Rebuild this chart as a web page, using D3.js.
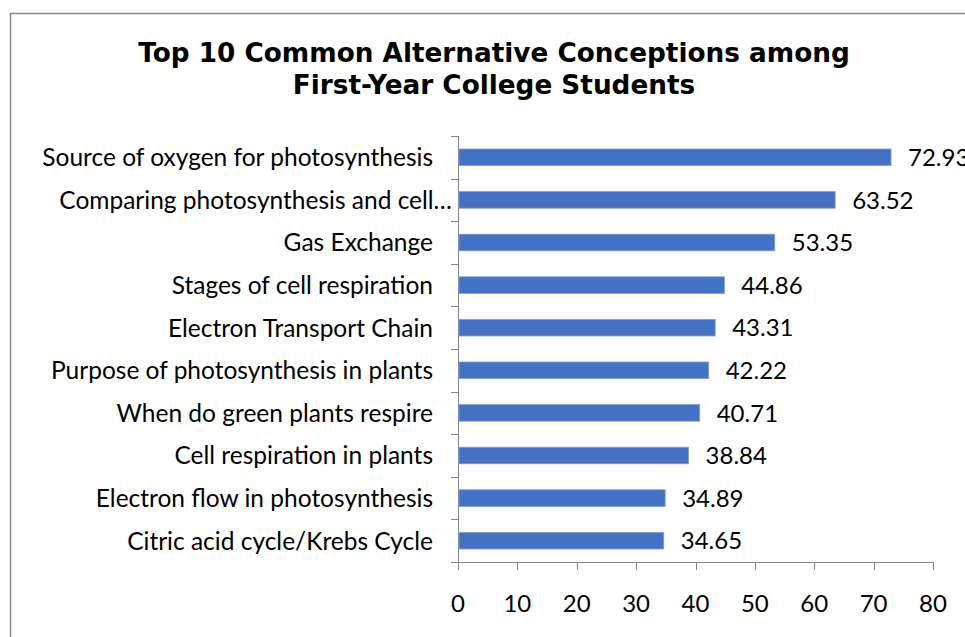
<!DOCTYPE html>
<html><head><meta charset="utf-8">
<script src="https://cdn.jsdelivr.net/npm/d3@7"></script>
<style>body{margin:0;background:#fff}svg{display:block}</style>
</head><body>
<svg id="c" width="965" height="637"></svg>
<script>
const categories = ["Source of oxygen for photosynthesis","Comparing photosynthesis and cell…","Gas Exchange","Stages of cell respiration","Electron Transport Chain","Purpose of photosynthesis in plants","When do green plants respire","Cell respiration in plants","Electron flow in photosynthesis","Citric acid cycle/Krebs Cycle"];
const values = [72.93,63.52,53.35,44.86,43.31,42.22,40.71,38.84,34.89,34.65];
const xTicks = [0,10,20,30,40,50,60,70,80];
const titleLines = ["Top 10 Common Alternative Conceptions among","First-Year College Students"];

const svg = d3.select("#c");
svg.append("rect").attr("x",10.5).attr("y",13.5).attr("width",980).attr("height",640)
  .attr("fill","#fff").attr("stroke","#888").attr("stroke-width",1.5);

const plotTop = 136, plotBottom = 562;
const x = d3.scaleLinear().domain([0,80]).range([458,933]);
const y = d3.scaleBand().domain(categories).range([plotTop,plotBottom]).paddingInner(0.61).paddingOuter(0.305);
const yb = d3.scaleBand().domain(categories).range([plotTop,plotBottom]);

const title = svg.append("text").attr("text-anchor","middle")
  .attr("font-family","DejaVu Sans").attr("font-weight","bold").attr("font-size",26.3).attr("fill","#000");
titleLines.forEach((t,i)=>title.append("tspan").attr("x",494).attr("y",62+i*32).text(t));

const g = svg.append("g");
const axisColor = "#868686";
g.append("line").attr("x1",x(0)+0.5).attr("x2",x(0)+0.5).attr("y1",plotTop).attr("y2",plotBottom).attr("stroke",axisColor);
g.append("line").attr("x1",x(0)).attr("x2",x(80)).attr("y1",plotBottom+0.5).attr("y2",plotBottom+0.5).attr("stroke",axisColor);
const bounds = categories.map(c=>yb(c)).concat([plotBottom]);
g.selectAll(".yt").data(bounds).join("line").attr("x1",x(0)-7).attr("x2",x(0))
  .attr("y1",d=>Math.round(d)+0.5).attr("y2",d=>Math.round(d)+0.5).attr("stroke",axisColor);
g.selectAll(".xt").data(xTicks).join("line").attr("x1",d=>Math.round(x(d))+0.5).attr("x2",d=>Math.round(x(d))+0.5)
  .attr("y1",plotBottom).attr("y2",plotBottom+8).attr("stroke",axisColor);
g.selectAll(".xl").data(xTicks).join("text").attr("x",d=>x(d)).attr("y",612)
  .attr("text-anchor","middle").attr("font-family","Lato").attr("font-size",24).attr("fill","#000").text(d=>d);

g.selectAll(".bar").data(values).join("rect")
  .attr("x",x(0)+1).attr("y",(d,i)=>y(categories[i])).attr("width",d=>x(d)-x(0)-1).attr("height",y.bandwidth())
  .attr("fill","#4472C4").attr("stroke","#7e9fd9").attr("stroke-width",0.8);
g.selectAll(".vl").data(values).join("text").attr("x",d=>x(d)+17).attr("y",(d,i)=>yb(categories[i])+yb.bandwidth()/2)
  .attr("dy","0.36em").attr("font-family","Lato").attr("font-size",24).attr("fill","#000").text(d=>d.toFixed(2));
g.selectAll(".cl").data(categories).join("text").attr("x",d=>d.endsWith("…")?452:433).attr("y",d=>yb(d)+yb.bandwidth()/2)
  .attr("dy","0.36em").attr("text-anchor","end").attr("font-family","Lato").attr("font-size",24.5).attr("fill","#000").text(d=>d);
</script>
</body></html>
